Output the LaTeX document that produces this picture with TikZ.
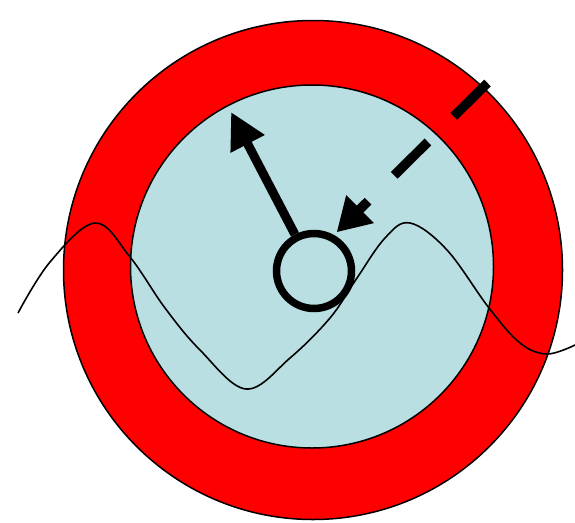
\documentclass[tikz,border=0pt]{standalone}
\usetikzlibrary{arrows.meta}
\definecolor{ringred}{RGB}{255,0,0}
\definecolor{discblue}{RGB}{185,223,227}
\begin{document}
\begin{tikzpicture}[x=1pt,y=-1pt,
  ring/.style={circle, draw=black, line width=1.5pt, inner sep=0pt},
  hubring/.style={circle, draw=black, line width=7.5pt, inner sep=0pt, minimum size=75pt},
  thickarrow/.style={line width=9pt, -{Triangle[length=36pt,width=36pt]}},
  dasharrow/.style={line width=9.5pt, dash pattern=on 47.4pt off 36.4pt on 47.5pt off 36.7pt on 60pt, -{Triangle[length=33pt,width=37pt]}},
  wave/.style={draw=black, line width=1.6pt}
]
\useasboundingbox (0,0) rectangle (575,522);
\node[ring, fill=ringred, minimum size=499pt] (outer) at (313,270) {};
\node[ring, fill=discblue, minimum size=363pt] (inner) at (312,266.5) {};
\draw[wave] plot[smooth, tension=0.6] coordinates {(18,313) (50,262) (95,223) (130,257) (165,308) (200,350) (246,389) (290,358) (330,318) (355,281) (385,238) (410,223) (447,250) (489,308) (520,343) (547,354) (575,345)};
\node[hubring] (hub) at (314,271) {};
\coordinate (tip1) at (231,112);
\coordinate (start2) at (487.5,83);
\draw[thickarrow] (hub) -- (tip1);
\draw[dasharrow] (start2) -- ([shift={(2pt,3pt)}]hub.60);
\end{tikzpicture}
\end{document}
